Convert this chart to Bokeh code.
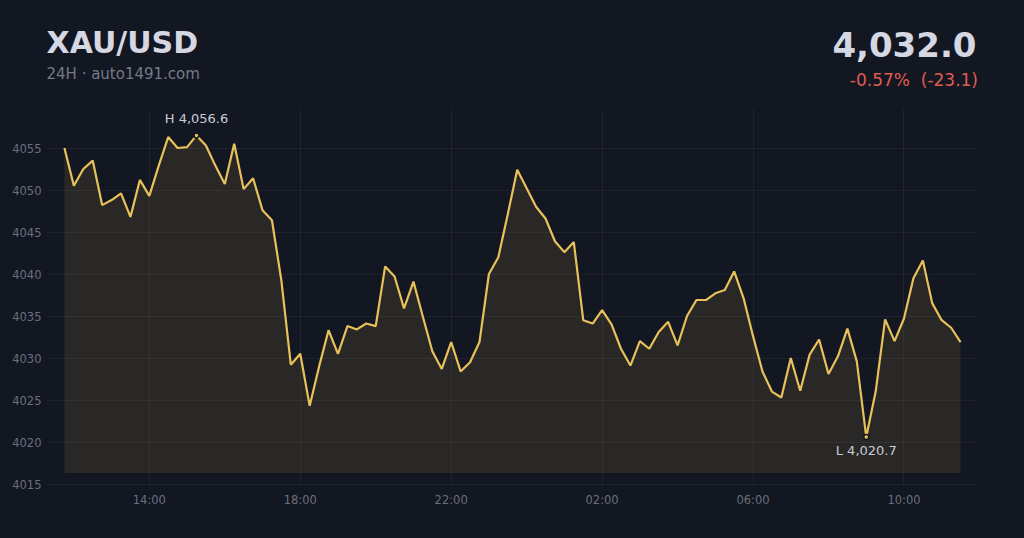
import pandas as pd
from bokeh.plotting import figure
from bokeh.layouts import column
from bokeh.models import Range1d, FixedTicker, DatetimeTickFormatter, Label
from bokeh.embed import file_html
from bokeh.resources import INLINE
from bokeh.core.properties import value

# ---- data ----
symbol = "XAU/USD"
subtitle = "24H · auto1491.com"
start_time = "2025-10-27 11:45"
interval = "15min"
prices = [
    4055.1, 4050.6, 4052.6, 4053.6, 4048.3, 4048.9, 4049.7, 4046.9, 4051.3, 4049.4,
    4053.0, 4056.4, 4055.1, 4055.2, 4056.6, 4055.4, 4053.0, 4050.8, 4055.6, 4050.2,
    4051.5, 4047.7, 4046.5, 4039.3, 4029.3, 4030.6, 4024.4, 4029.1, 4033.4, 4030.6,
    4033.9, 4033.5, 4034.2, 4033.9, 4041.0, 4039.8, 4036.0, 4039.2, 4035.0, 4030.9,
    4028.8, 4032.0, 4028.5, 4029.6, 4032.0, 4040.1, 4042.1, 4047.2, 4052.5, 4050.3,
    4048.1, 4046.7, 4044.0, 4042.7, 4043.9, 4034.6, 4034.2, 4035.8, 4034.1, 4031.2,
    4029.2, 4032.1, 4031.2, 4033.2, 4034.4, 4031.6, 4035.1, 4037.0, 4037.0, 4037.8,
    4038.2, 4040.4, 4037.2, 4032.7, 4028.5, 4026.1, 4025.4, 4030.1, 4026.2, 4030.5,
    4032.3, 4028.2, 4030.3, 4033.6, 4029.7, 4020.7, 4026.1, 4034.7, 4032.1, 4034.8,
    4039.6, 4041.7, 4036.6, 4034.6, 4033.7, 4032.0,
]
x_tick_times = ["2025-10-27 14:00", "2025-10-27 18:00", "2025-10-27 22:00",
                "2025-10-28 02:00", "2025-10-28 06:00", "2025-10-28 10:00"]
y_ticks = [4015, 4020, 4025, 4030, 4035, 4040, 4045, 4050, 4055]

# ---- styles ----
BG = "#131722"
GOLD = "#e8c15a"
TXT = "#d5d8e2"
MUTED = "#767a87"
AXIS_TXT = "#6b6f7b"
RED = "#e05b50"
FONT = "DejaVu Sans"
W = 1024
HEAD_H = 100
LEFT, RIGHT, HEAD_TOP, MAIN_TOP = 46, 46, 19, 8

# ---- header (title / price); its frame maps 1:1 onto page pixels ----
head = figure(width=W, height=HEAD_H, output_backend="svg", toolbar_location=None,
              x_range=Range1d(LEFT, W - RIGHT), y_range=Range1d(HEAD_H, HEAD_TOP),
              min_border_left=LEFT, min_border_right=RIGHT, min_border_top=HEAD_TOP,
              min_border_bottom=0, background_fill_color=BG, border_fill_color=BG,
              outline_line_color=None)
head.axis.visible = False
head.grid.visible = False

last = prices[-1]
chg = last - prices[0]
pct = chg / prices[0] * 100

head.text(x=[46], y=[42.3], text=[symbol], text_font=value(FONT),
          text_font_style="bold", text_font_size="30px", text_color=TXT,
          text_baseline="alphabetic", text_align="left")
head.text(x=[46], y=[73], text=[subtitle], text_font=value(FONT),
          text_font_size="15px", text_color=MUTED,
          text_baseline="alphabetic", text_align="left")
head.text(x=[976], y=[43.7], text=[f"{last:,.1f}"], text_font=value(FONT),
          text_font_style="bold", text_font_size="34px", text_color=TXT,
          text_baseline="alphabetic", text_align="right")
head.text(x=[977.5], y=[79.5], text=[f"{pct:.2f}%\u00a0\u00a0({chg:.1f})"],
          text_font=value(FONT), text_font_size="17px", text_color=RED,
          text_baseline="alphabetic", text_align="right")

# ---- main chart ----
times = pd.date_range(start=start_time, periods=len(prices), freq=interval)
span = times[-1] - times[0]
pad = span * 0.02
x_range = Range1d(times[0] - pad, times[-1] + pad)
y_range = Range1d(4014.92, 4059.8)
baseline = 4016.4

p = figure(width=W, height=538 - HEAD_H, output_backend="svg", toolbar_location=None,
           x_axis_type="datetime", x_range=x_range, y_range=y_range,
           min_border_left=LEFT, min_border_right=RIGHT, min_border_top=MAIN_TOP,
           min_border_bottom=53, background_fill_color=BG, border_fill_color=BG,
           outline_line_color=None)

p.varea(x=times, y1=baseline, y2=prices, fill_color=GOLD, fill_alpha=0.1)
p.line(x=times, y=prices, line_color=GOLD, line_width=2.2)

hi = max(prices)
lo = min(prices)
i_hi = prices.index(hi)
i_lo = prices.index(lo)
p.scatter([times[i_hi], times[i_lo]], [hi, lo], size=5, fill_color=GOLD,
          line_color=BG, line_width=1.5)

def ms(t):
    return pd.Timestamp(t).value / 1e6

p.add_layout(Label(x=ms(times[i_hi]), y=hi, text=f"H {hi:,.1f}", y_offset=16.5,
                   text_align="center", text_baseline="alphabetic",
                   text_font=FONT, text_font_size="13px", text_color="#c9ccd6"))
p.add_layout(Label(x=ms(times[i_lo]), y=lo, text=f"L {lo:,.1f}", y_offset=-14,
                   text_align="center", text_baseline="alphabetic",
                   text_font=FONT, text_font_size="13px", text_color="#c9ccd6"))

p.xaxis.ticker = FixedTicker(ticks=[ms(t) for t in x_tick_times])
p.xaxis.formatter = DatetimeTickFormatter(hours="%H:%M", days="%H:%M",
                                          minutes="%H:%M", hourmin="%H:%M")
p.yaxis.ticker = FixedTicker(ticks=y_ticks)

for ax in (p.xaxis, p.yaxis):
    ax.axis_line_color = None
    ax.major_tick_line_color = None
    ax.minor_tick_line_color = None
    ax.major_tick_out = 0
    ax.major_tick_in = 0
    ax.major_label_text_color = AXIS_TXT
    ax.major_label_text_font = FONT
    ax.major_label_text_font_size = "11.5px"
p.xaxis.major_label_standoff = 7
p.yaxis.major_label_standoff = 5

p.xgrid.grid_line_color = "#ffffff"
p.xgrid.grid_line_alpha = 0.05
p.ygrid.grid_line_color = "#ffffff"
p.ygrid.grid_line_alpha = 0.05

layout = column(head, p, spacing=0)
html = file_html(layout, INLINE)
html = html.replace("</head>", "<style>html,body{background:%s;}</style></head>" % BG, 1)
open("out.html", "w").write(html)
